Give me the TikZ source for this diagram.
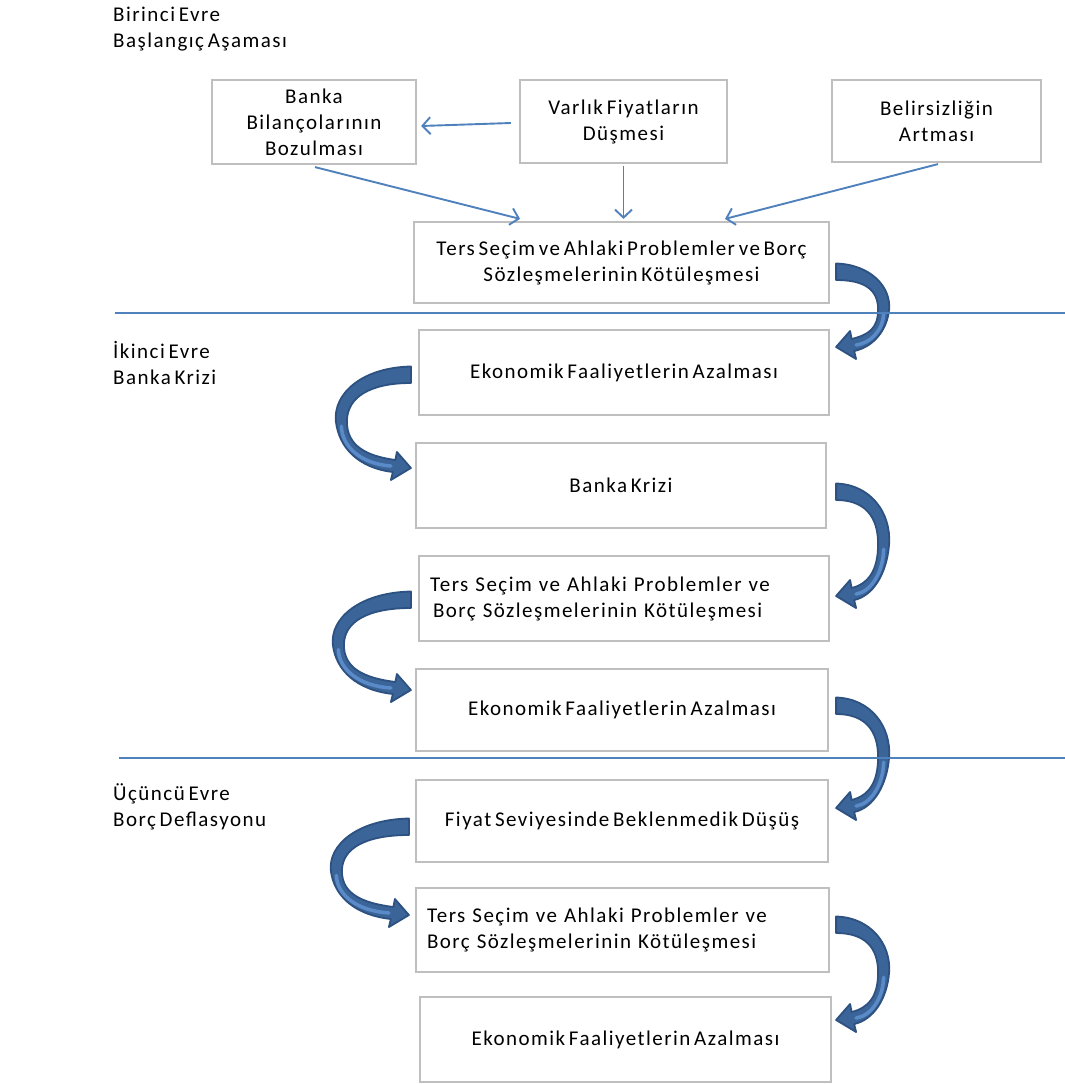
\documentclass[tikz,border=0pt]{standalone}
\usepackage{fontspec}
\setmainfont{Carlito}[LetterSpace=7,WordSpace=0.6]
\usetikzlibrary{arrows.meta}
\definecolor{boxgray}{HTML}{BFBFBF}
\definecolor{lineblue}{HTML}{4F81BD}
\definecolor{arrdark}{HTML}{3B6598}
\definecolor{arredge}{HTML}{2D5180}
\definecolor{arrlight}{HTML}{5A8AC8}
\tikzset{
  box/.style={draw=boxgray, line width=2.2pt, fill=white, inner sep=0pt, align=center,
    font=\fontsize{21}{26}\selectfont},
  lbox/.style={box, align=left, inner xsep=11pt},
  lbl/.style={inner sep=0pt, align=left, anchor=west, font=\fontsize{21}{26}\selectfont},
  thinarrow/.style={draw=lineblue, line width=1.9pt, -{Straight Barb[length=8pt,width=17pt,line width=1.9pt]}},
  phase/.style={draw=lineblue, line width=1.8pt},
  pics/warrow/.style 2 args={code={
    \path[fill=arrdark, draw=arredge, line width=1.8pt, line join=round]
      (0,-8.5) .. controls ({0.65*#2},-7.5) and ({1.04*#2},{0.2*#1}) .. ({#2},{0.5*#1})
      .. controls ({0.96*#2},{0.78*#1}) and ({0.7*#2},{#1}) .. (18,{#1+4})
      -- (20,{#1+12}) -- (0,{#1}) -- (14,{#1-16}) -- (15.5,{#1-8})
      .. controls ({0.6*#2},{#1-12}) and ({#2-11},{0.76*#1}) .. ({#2-11},{0.5*#1})
      .. controls ({#2-11},{0.24*#1}) and ({0.55*#2},8) .. (0,8) -- cycle;
    \draw[arrlight, line width=3.5pt, line cap=round]
      ({#2-5.5},{0.55*#1}) .. controls ({#2-6},{0.78*#1}) and ({0.65*#2},{#1-4}) .. (20,{#1-2});
  }}
}
\begin{document}
\begin{tikzpicture}[x=1pt, y=-1pt]
\useasboundingbox[fill=white] (0,0) rectangle (1065,1084);

% phase labels
\node[lbl] (p1) at (113,29) {Birinci Evre\\Başlangıç Aşaması};
\node[lbl] (p2) at (113,363.5) {İkinci Evre\\Banka Krizi};
\node[lbl] (p3) at (113,806.5) {Üçüncü Evre\\Borç Deflasyonu};

% boxes
\node[box, minimum width=204pt, minimum height=84pt] (bb) at (314,122) {Banka\\Bilançolarının\\Bozulması};
\node[box, minimum width=207pt, minimum height=83pt] (vf) at (623.5,121.5) {Varlık Fiyatların\\Düşmesi};
\node[box, minimum width=209pt, minimum height=82pt] (ba) at (936.5,121) {Belirsizliğin\\Artması};
\node[box, minimum width=415pt, minimum height=81pt] (t1) at (621.5,262.5) {Ters Seçim ve Ahlaki Problemler ve Borç\\Sözleşmelerinin Kötüleşmesi};
\node[box, minimum width=410pt, minimum height=85pt] (e1) at (624,372.5) {Ekonomik Faaliyetlerin Azalması};
\node[box, minimum width=410pt, minimum height=85pt] (k1) at (621,485.5) {Banka Krizi};
\node[lbox, minimum width=410pt, minimum height=85pt, text width=388pt] (t2) at (624,598.5) {Ters Seçim ve Ahlaki Problemler ve\\\hspace*{3pt}Borç Sözleşmelerinin Kötüleşmesi};
\node[box, minimum width=412pt, minimum height=82pt] (e2) at (622,710) {Ekonomik Faaliyetlerin Azalması};
\node[box, minimum width=412pt, minimum height=82pt] (f1) at (622,821) {Fiyat Seviyesinde Beklenmedik Düşüş};
\node[lbox, minimum width=413pt, minimum height=84pt, text width=391pt] (t3) at (622.5,930) {Ters Seçim ve Ahlaki Problemler ve\\Borç Sözleşmelerinin Kötüleşmesi};
\node[box, minimum width=411pt, minimum height=85pt] (e3) at (625.5,1039.5) {Ekonomik Faaliyetlerin Azalması};

% thin connectors
\draw[thinarrow] ([xshift=-8pt,yshift=-1.5pt]vf.west) -- ([xshift=4pt,yshift=-4pt]bb.east);
\draw[thinarrow] ([xshift=1pt,yshift=-2pt]bb.south) -- ([xshift=-101.5pt,yshift=2pt]t1.north);
\draw[thinarrow] ([yshift=-2pt]vf.south) -- ([yshift=2pt]vf.south |- t1.north);
\draw[thinarrow] ([xshift=1.5pt,yshift=-1pt]ba.south) -- ([xshift=103.5pt,yshift=2pt]t1.north);

% curved block arrows
\pic at ([xshift=6pt,yshift=-9.5pt]t1.east) {warrow={75}{53}};
\pic[xscale=-1] at ([xshift=-7pt,yshift=-2.5pt]e1.west) {warrow={93}{75}};
\pic at ([xshift=9pt,yshift=-6.5pt]k1.east) {warrow={104}{53}};
\pic[xscale=-1] at ([xshift=-7pt,yshift=-1.5pt]t2.west) {warrow={90}{78}};
\pic at ([xshift=7pt,yshift=4pt]e2.east) {warrow={102}{53}};
\pic[xscale=-1] at ([xshift=-6pt,yshift=-6pt]f1.west) {warrow={88}{78}};
\pic at ([xshift=6pt,yshift=5pt]t3.east) {warrow={95}{53}};

% phase separators
\coordinate (s1a) at (115,313);
\coordinate (s1b) at (1065,313);
\coordinate (s2a) at (119,758);
\coordinate (s2b) at (1065,758);
\draw[phase] (s1a) -- (s1b);
\draw[phase] (s2a) -- (s2b);
\end{tikzpicture}
\end{document}
